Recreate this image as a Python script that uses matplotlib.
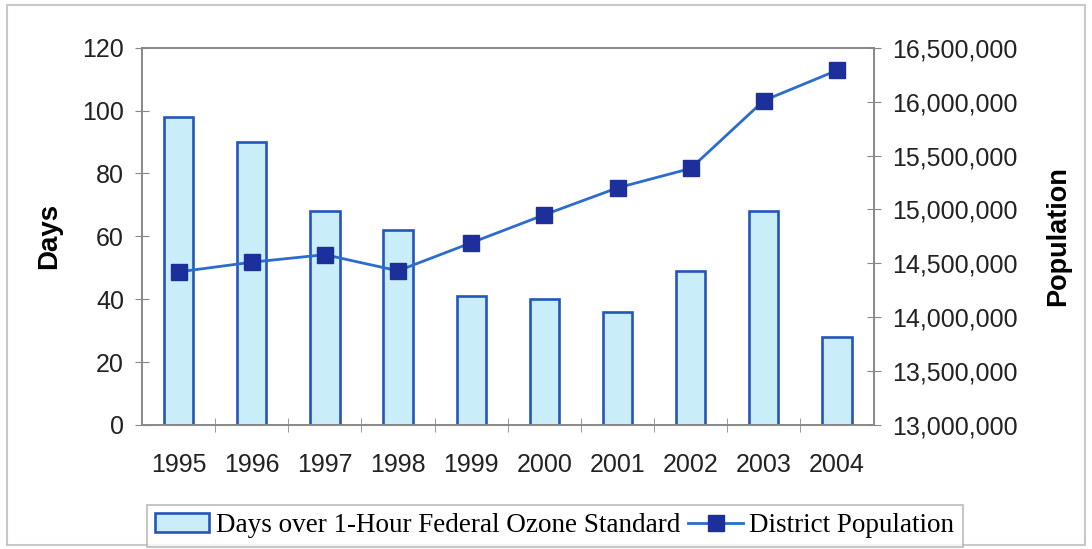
import matplotlib
matplotlib.use("Agg")
from matplotlib import pyplot as plt
from matplotlib.ticker import FuncFormatter, MultipleLocator
from matplotlib.patches import Rectangle

years = ["1995", "1996", "1997", "1998", "1999", "2000", "2001", "2002", "2003", "2004"]
ozone_days = [98, 90, 68, 62, 41, 40, 36, 49, 68, 28]
population = [14420000, 14510000, 14580000, 14430000, 14690000,
              14950000, 15200000, 15380000, 16010000, 16290000]

fig = plt.figure(figsize=(10.92, 5.49), dpi=100)
# outer frame round the whole chart
fig.patches.append(Rectangle((0.006, 0.008), 0.988, 0.982, transform=fig.transFigure,
                             fill=False, edgecolor="#c8c8c8", linewidth=1.5))

ax = fig.add_axes([0.130, 0.226, 0.670, 0.687])
x = list(range(len(years)))
ax.bar(x, ozone_days, width=0.4, color="#c9eef9", edgecolor="#2455bb", linewidth=1.9,
       label="Days over 1-Hour Federal Ozone Standard", zorder=2)
ax.set_xlim(-0.5, len(years) - 0.5)
ax.set_ylim(0, 120)
ax.yaxis.set_major_locator(MultipleLocator(20))
ax.set_xticks(x)
ax.set_xticklabels(years)
ax.set_xticks([i + 0.5 for i in x[:-1]], minor=True)
ax.tick_params(axis="x", which="major", length=0, pad=20)
ax.tick_params(axis="x", which="minor", length=10, direction="inout", color="#888888")
ax.tick_params(axis="y", length=10, direction="inout", color="#888888", pad=8)
ax.set_ylabel("Days", fontsize=20, fontweight="bold", labelpad=14)

ax2 = ax.twinx()
ax2.plot(x, population, color="#2b6ccc", linewidth=2, marker="s", markersize=11,
         markerfacecolor="#1c2f9a", markeredgecolor="#1c2f9a", label="District Population", zorder=3)
ax2.set_ylim(13000000, 16500000)
ax2.yaxis.set_major_locator(MultipleLocator(500000))
ax2.yaxis.set_major_formatter(FuncFormatter(lambda v, p: f"{int(v):,}"))
ax2.tick_params(axis="y", length=10, direction="inout", color="#888888", pad=8)
ax2.set_ylabel("Population", fontsize=19.5, fontweight="bold", labelpad=20)

for a in (ax, ax2):
    for s in a.spines.values():
        s.set_color("#888888")
        s.set_linewidth(1.2)
    for lab in a.get_xticklabels() + a.get_yticklabels():
        lab.set_fontfamily("Liberation Sans")
        lab.set_fontsize(18)
        lab.set_color("#222222")
ax.yaxis.label.set_fontfamily("Liberation Sans")
ax2.yaxis.label.set_fontfamily("Liberation Sans")

h1, l1 = ax.get_legend_handles_labels()
h2, l2 = ax2.get_legend_handles_labels()
leg = fig.legend(h1 + h2, l1 + l2, loc="center", bbox_to_anchor=(0.508, 0.042),
                 ncol=2, frameon=True, fancybox=False, edgecolor="#aaaaaa",
                 prop={"family": "Liberation Serif", "size": 19.5},
                 handlelength=2.0, handletextpad=0.25, columnspacing=0.3,
                 borderpad=0.3)
leg.get_frame().set_linewidth(1.2)

fig.savefig("out.png", dpi=100)
